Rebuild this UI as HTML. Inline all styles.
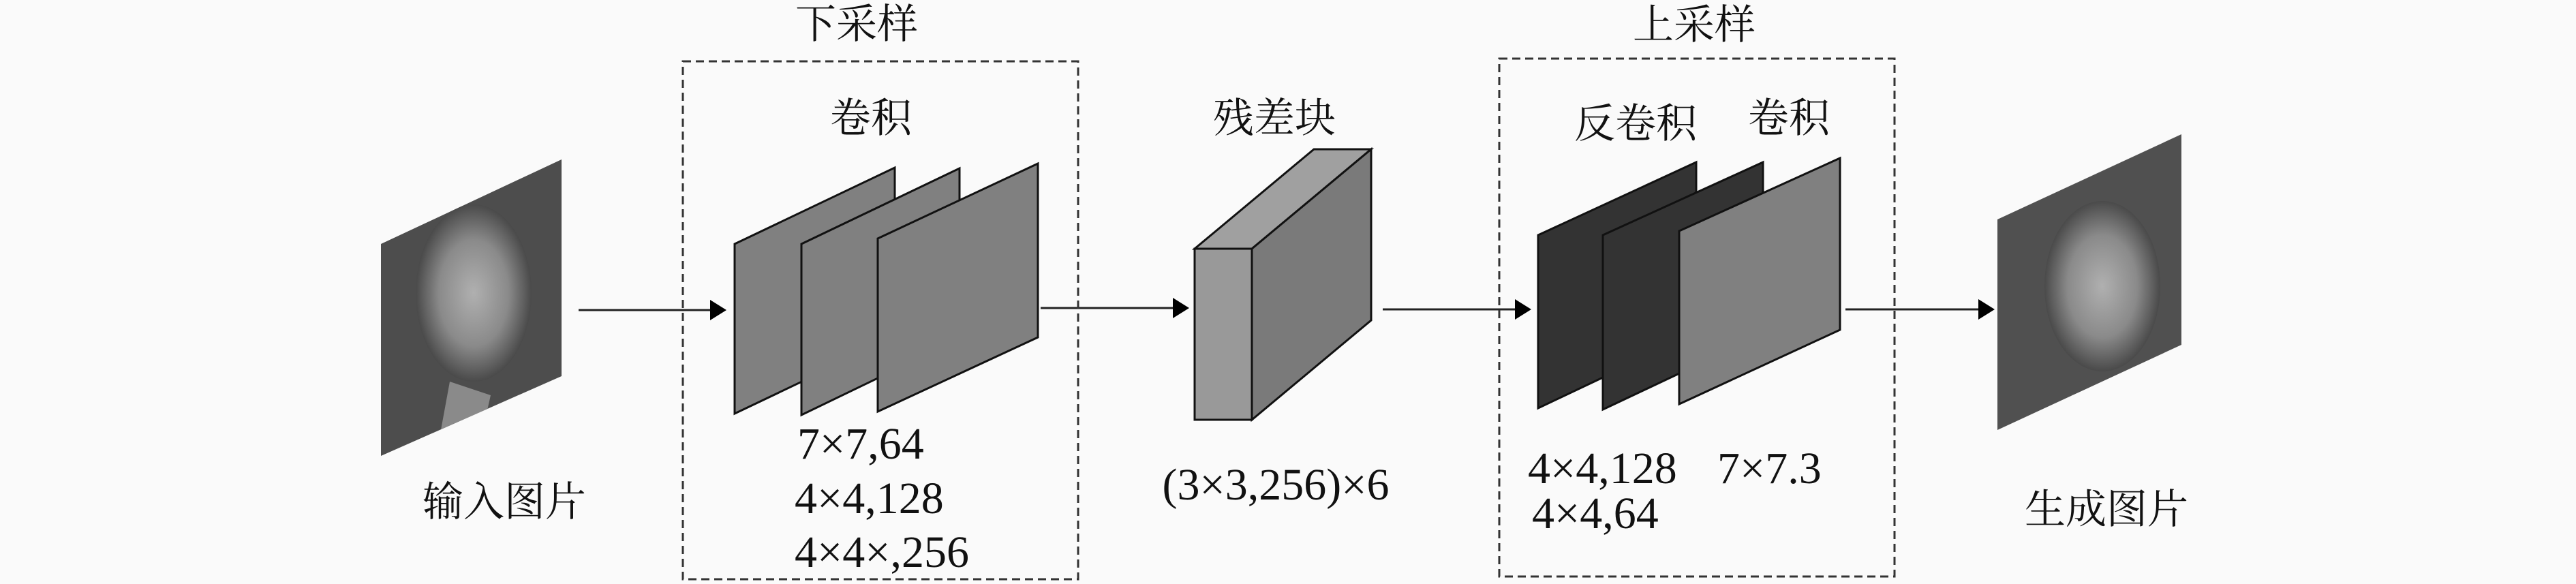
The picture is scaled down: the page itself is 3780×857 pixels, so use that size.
<!DOCTYPE html>
<html><head><meta charset="utf-8"><style>
html,body{margin:0;padding:0;background:#fafafa;}
svg{display:block}
text{font-family:"Liberation Serif","Noto Serif CJK SC",serif;fill:#111;}
.cn{font-size:60px;}
.num{font-size:66px;}
</style></head><body>
<svg width="3780" height="857" viewBox="0 0 3780 857" xmlns="http://www.w3.org/2000/svg">
<defs>
<radialGradient id="f1" cx="0.5" cy="0.5" r="0.5">
<stop offset="0" stop-color="#b0b0b0"/><stop offset="0.6" stop-color="#8a8a8a"/><stop offset="1" stop-color="#4a4a4a"/>
</radialGradient>
<clipPath id="c1"><polygon points="559,358 824,234 824,552 559,669"/></clipPath>
<clipPath id="c2"><polygon points="2931,322 3201,197 3201,506 2931,631"/></clipPath>
</defs>

<!-- input face -->
<g clip-path="url(#c1)">
<rect x="559" y="230" width="270" height="450" fill="#4d4d4d"/>
<ellipse cx="695" cy="430" rx="85" ry="130" fill="url(#f1)"/>
<path d="M640,669 L660,560 L720,580 L700,669 Z" fill="#8a8a8a"/>
</g>

<!-- arrows -->
<g stroke="#222" stroke-width="3" fill="none">
<line x1="849" y1="455" x2="1050" y2="455"/>
<line x1="1527" y1="452" x2="1730" y2="452"/>
<line x1="2029" y1="454" x2="2232" y2="454"/>
<line x1="2708" y1="454" x2="2912" y2="454"/>
</g>
<path d="M1042,440 L1066,455 L1042,470Z" fill="#000"/>
<path d="M1721,437 L1745,452 L1721,467Z" fill="#000"/>
<path d="M2223,439 L2247,454 L2223,469Z" fill="#000"/>
<path d="M2903,439 L2927,454 L2903,469Z" fill="#000"/>

<!-- dashed boxes -->
<rect x="1002" y="90" width="580" height="760" fill="none" stroke="#333" stroke-width="3" stroke-dasharray="12,7"/>
<rect x="2200" y="86" width="580" height="760" fill="none" stroke="#333" stroke-width="3" stroke-dasharray="12,7"/>

<!-- downsample planes -->
<g stroke="#111" stroke-width="3" stroke-linejoin="miter">
<polygon points="1078,358 1313,246 1313,495 1078,607" fill="#808080"/>
<polygon points="1176,358 1408,247 1408,497 1176,609" fill="#808080"/>
<polygon points="1288,350 1523,240 1523,495 1288,604" fill="#808080"/>
</g>

<!-- residual block -->
<g stroke="#111" stroke-width="3" stroke-linejoin="miter">
<polygon points="1753,365 1837,365 2012,219 1928,219" fill="#a0a0a0"/>
<polygon points="1837,365 2012,219 2012,470 1837,616" fill="#7a7a7a"/>
<rect x="1753" y="365" width="84" height="251" fill="#999"/>
</g>

<!-- upsample planes -->
<g stroke="#111" stroke-width="3">
<polygon points="2257,345 2489,238 2489,489 2257,599" fill="#333"/>
<polygon points="2352,345 2587,238 2587,490 2352,601" fill="#333"/>
<polygon points="2464,339 2700,232 2700,484 2464,593" fill="#808080"/>
</g>

<!-- output face -->
<g clip-path="url(#c2)">
<rect x="2931" y="190" width="275" height="450" fill="#505050"/>
<ellipse cx="3085" cy="420" rx="85" ry="125" fill="url(#f1)"/>
<path d="M3010,631 L3040,580 L3080,570 L3120,575 Z" fill="#aaa"/>
</g>

<!-- labels -->
<text class="cn" x="1257" y="56" text-anchor="middle">下采样</text>
<text class="cn" x="1278" y="194" text-anchor="middle">卷积</text>
<text class="cn" x="1870" y="194" text-anchor="middle">残差块</text>
<text class="cn" x="2486" y="57" text-anchor="middle">上采样</text>
<text class="cn" x="2400" y="202" text-anchor="middle">反卷积</text>
<text class="cn" x="2625" y="194" text-anchor="middle">卷积</text>
<text class="cn" x="740" y="757" text-anchor="middle">输入图片</text>
<text class="cn" x="3091" y="768" text-anchor="middle">生成图片</text>

<text class="num" x="1170" y="673">7×7,64</text>
<text class="num" x="1166" y="753">4×4,128</text>
<text class="num" x="1166" y="832">4×4×,256</text>
<text class="num" x="1872" y="733" text-anchor="middle">(3×3,256)×6</text>
<text class="num" x="2242" y="709">4×4,128</text>
<text class="num" x="2520" y="709">7×7.3</text>
<text class="num" x="2248" y="775">4×4,64</text>
</svg>
</body></html>
